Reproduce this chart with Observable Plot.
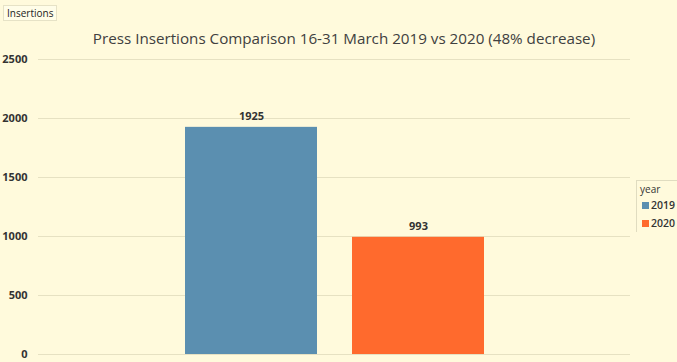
<!DOCTYPE html>
<html>
<head>
<meta charset="utf-8">
<script src="https://cdn.jsdelivr.net/npm/d3@7"></script>
<script src="https://cdn.jsdelivr.net/npm/@observablehq/plot@0.6"></script>
<style>
  html, body { margin: 0; padding: 0; background: #fffadc; }
  #wrap { position: relative; width: 677px; height: 362px; overflow: hidden; font-family: "Open Sans", "Liberation Sans", sans-serif; }
  #title { position: absolute; left: 0; width: 688px; top: 28px; text-align: center; font-size: 15.2px; color: #404040; }
  #ylab { position: absolute; left: 3px; top: 5px; font-size: 10px; color: #222; background: #fffde8; border: 1px solid #e6e2c6; padding: 0 3px; line-height: 14px; }
  #legend { position: absolute; left: 636px; top: 180px; font-size: 11px; color: #333; border-top: 1px solid #e0dcc0; border-left: 1px solid #e0dcc0; padding: 1px 0 0 3px; width: 38px; }
  #legend .row { display: flex; align-items: center; height: 18px; font-weight: 600; font-size: 10.5px; color: #333; white-space: nowrap; }
  #legend .sw { width: 7px; height: 7px; margin: 0 2px 0 2px; }
  #legend .hd { font-size: 10px; height: 14px; line-height: 14px; }
</style>
</head>
<body>
<div id="wrap">
  <div id="chart"></div>
  <div id="title"></div>
  <div id="ylab"></div>
  <div id="legend"></div>
</div>
<script>
const years = ["2019", "2020"];
const insertions = [1925, 993];
const colors = ["#5b8fb0", "#ff6a2d"];
const yTicks = [0, 500, 1000, 1500, 2000, 2500];
const titleText = "Press Insertions Comparison 16-31 March 2019 vs 2020 (48% decrease)";
const yLabel = "Insertions";
const legendTitle = "year";

const data = years.map((y, i) => ({year: y, value: insertions[i]}));

const chart = Plot.plot({
  width: 677,
  height: 362,
  marginTop: 59,
  marginBottom: 8,
  marginLeft: 38,
  marginRight: 47,
  style: {background: "#fffadc", fontFamily: "'Open Sans', 'Liberation Sans', sans-serif"},
  x: {domain: years, paddingInner: 0.21, paddingOuter: 0.877, axis: null},
  y: {domain: [0, 2500], ticks: yTicks, label: null},
  color: {domain: years, range: colors},
  marks: [
    Plot.gridY(yTicks, {stroke: "#e6e1c2", strokeOpacity: 1, strokeWidth: 1}),
    Plot.axisY(yTicks, {tickSize: 0, tickPadding: 0, dx: -11, fontSize: 11, fontWeight: "bold", fill: "#333", label: null, tickFormat: d => String(d)}),
    Plot.barY(data, {x: "year", y: "value", fill: "year"}),
    Plot.text(data, {x: "year", y: "value", text: d => String(d.value), dy: -11, fontSize: 11, fontWeight: "bold", fill: "#333"})
  ]
});
document.getElementById("chart").appendChild(chart);
document.getElementById("title").textContent = titleText;
document.getElementById("ylab").textContent = yLabel;
const lg = document.getElementById("legend");
lg.innerHTML = `<div class="hd">${legendTitle}</div>` + years.map((y, i) =>
  `<div class="row"><span class="sw" style="background:${colors[i]}"></span>${y}</div>`).join("");
</script>
</body>
</html>
